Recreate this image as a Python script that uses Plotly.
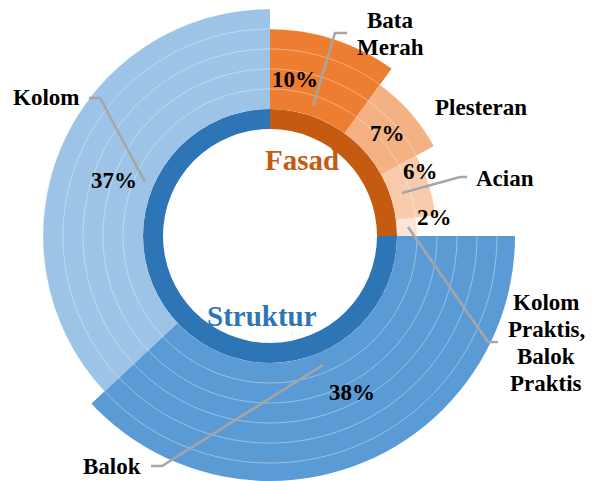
import plotly.graph_objects as go

# ---------------- data ----------------
outer_labels = ["Bata Merah", "Plesteran", "Acian", "Kolom Praktis, Balok Praktis", "Balok", "Kolom"]
outer_pct = [10, 7, 6, 2, 38, 37]
outer_depth = [4, 3, 2, 1, 6, 5]          # ring steps of each outer segment
outer_text = ["10%", "7%", "6%", "2%", "38%", "37%"]

group_labels = ["Fasad", "Struktur"]
group_pct = [25, 75]

# ---------------- styles ----------------
outer_colors = ["#ED7D31", "#F4B183", "#F8CBAD", "#FBE5D6", "#5B9BD5", "#9DC3E6"]
group_colors = ["#C55A11", "#2E75B6"]
OFF = 8                    # page body margin of the html page
WIN_W, WIN_H = 593, 481
W, H = WIN_W - OFF, WIN_H - OFF
CX, CY = 270 - OFF, 236 - OFF   # centre in figure pixels
UNIT = 20                  # pixels per radial unit
HOLE = 5.35
RING = 1.0
FONT = "Liberation Serif, Times New Roman, serif"
LEADER = "#A6A6A6"
GRID = "rgba(255,255,255,0.42)"


def spans(vals):
    tot = float(sum(vals))
    start, th, wd = 0.0, [], []
    for v in vals:
        w = 360.0 * v / tot
        th.append(start + w / 2)
        wd.append(w)
        start += w
    return th, wd


gth, gwd = spans(group_pct)
oth, owd = spans(outer_pct)
grid_vals = [HOLE + RING + k for k in range(1, max(outer_depth))]
circle_theta = list(range(0, 361))

fig = go.Figure()
for sp in ["polar", "polar2"]:
    fig.add_trace(go.Barpolar(
        r=[RING] * len(group_pct), base=[HOLE] * len(group_pct), theta=gth, width=gwd,
        marker=dict(color=group_colors, line=dict(width=0)), subplot=sp,
        hovertext=group_labels, showlegend=False))
    fig.add_trace(go.Barpolar(
        r=outer_depth, base=[HOLE + RING] * len(outer_pct), theta=oth, width=owd,
        marker=dict(color=outer_colors, line=dict(width=0)), subplot=sp,
        hovertext=outer_labels, showlegend=False))
    # light concentric grid circles drawn over the bars
    for g in grid_vals:
        fig.add_trace(go.Scatterpolar(
            r=[g] * len(circle_theta), theta=circle_theta, mode="lines",
            line=dict(color=GRID, width=0.9), subplot=sp, hoverinfo="skip", showlegend=False))

radial_common = dict(showline=False, showticklabels=False, ticks="", showgrid=False)
ang_common = dict(rotation=90, direction="clockwise", showgrid=False, showline=False,
                  showticklabels=False, ticks="", thetaunit="degrees")

R_up = CY / UNIT
R_lo = (H - CY) / UNIT
up_px = R_up * UNIT
lo_px = R_lo * UNIT

fig.update_layout(
    width=W, height=H, margin=dict(l=0, r=0, t=0, b=0),
    paper_bgcolor="white", plot_bgcolor="white", showlegend=False,
    polar=dict(
        sector=[0, 180], bgcolor="rgba(0,0,0,0)",
        domain=dict(x=[(CX - up_px) / W, (CX + up_px) / W], y=[(H - CY) / H, 1.0]),
        radialaxis=dict(range=[0, R_up], **radial_common),
        angularaxis=dict(**ang_common),
    ),
    polar2=dict(
        sector=[180, 360], bgcolor="rgba(0,0,0,0)",
        domain=dict(x=[(CX - lo_px) / W, (CX + lo_px) / W], y=[0, (H - CY) / H]),
        radialaxis=dict(range=[0, R_lo], **radial_common),
        angularaxis=dict(**ang_common),
    ),
)


def P(x, y):
    # window pixel -> paper coordinates
    return (x - OFF) / W, 1 - (y - OFF) / H


def ann(text, x, y, size=23, color="black"):
    px, py = P(x, y)
    fig.add_annotation(text="<b>%s</b>" % text, x=px, y=py, xref="paper", yref="paper",
                       showarrow=False, xanchor="center", yanchor="middle",
                       font=dict(family=FONT, size=size, color=color))


def leader(points):
    pts = [P(x, y) for x, y in points]
    path = "M %f,%f " % pts[0] + " ".join("L %f,%f" % p for p in pts[1:])
    fig.add_shape(type="path", path=path, xref="paper", yref="paper",
                  line=dict(color=LEADER, width=2.5))


# leader lines
leader([(313, 106), (335, 33), (347, 33)])            # Bata Merah
leader([(402, 193), (460, 177), (467, 177)])          # Acian
leader([(408, 227), (488, 342), (498, 342)])          # Kolom Praktis
leader([(89, 98), (100, 98), (145, 182)])             # Kolom
leader([(323, 365), (162, 466), (151, 466)])          # Balok

# percentage labels
pct_pos = [(295, 80), (387, 133), (420, 172), (434, 217), (352, 392), (114, 181)]
for t, (x, y) in zip(outer_text, pct_pos):
    ann(t, x, y)

# category labels (one annotation per line)
ann("Bata", 390, 21)
ann("Merah", 390, 48)
ann("Plesteran", 481, 108)
ann("Acian", 505, 178)
ann("Kolom", 46, 98)
ann("Balok", 112, 466)
for i, line in enumerate(["Kolom", "Praktis,", "Balok", "Praktis"]):
    ann(line, 546, 302 + i * 27)

# group labels
ann(group_labels[0], 302, 160, size=29, color=group_colors[0])
ann(group_labels[1], 262, 316, size=29, color=group_colors[1])

fig.write_html("out.html")
